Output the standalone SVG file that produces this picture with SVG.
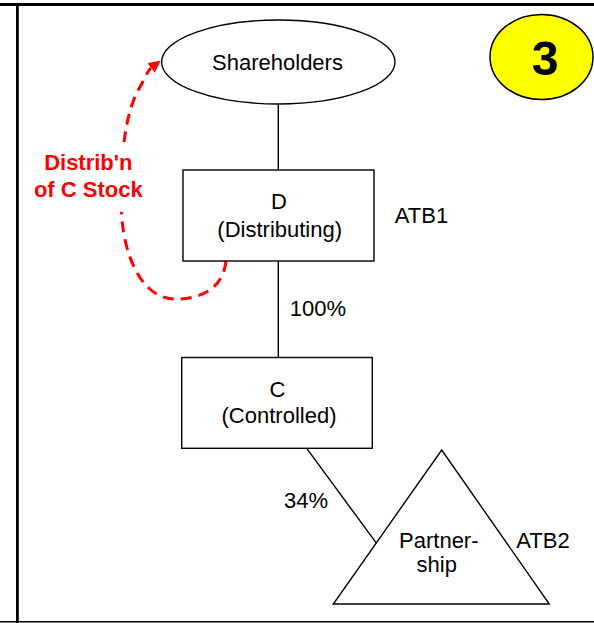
<svg xmlns="http://www.w3.org/2000/svg" width="594" height="623" viewBox="0 0 594 623">
<defs>
<style>
.t{font-family:"Liberation Sans",Arial,sans-serif;font-size:22px;fill:#000;text-anchor:middle}
.r{font-family:"Liberation Sans",Arial,sans-serif;font-size:22px;font-weight:bold;fill:#FF0000;text-anchor:middle}
.n{fill:#fff;stroke:#000;stroke-width:1.4}
.c{stroke:#000;stroke-width:1.4;fill:none}
</style>
<marker id="ah" viewBox="0 0 12 12" refX="0" refY="6" markerWidth="12" markerHeight="12" markerUnits="userSpaceOnUse" orient="auto">
<path d="M0,0 L12,6 L0,12 z" fill="#FF0000"/>
</marker>
</defs>
<rect width="594" height="623" fill="#fff"/>
<g id="frame">
<line x1="0" y1="4.6" x2="594" y2="4.6" stroke="#000" stroke-width="3"/>
<line x1="17.4" y1="4" x2="17.4" y2="623" stroke="#000" stroke-width="2.8"/>
<line x1="0" y1="621.8" x2="594" y2="621.8" stroke="#000" stroke-width="1.5"/>
</g>
<g id="connectors">
<line class="c" x1="278.3" y1="104" x2="278.3" y2="170"/>
<line class="c" x1="278.3" y1="261" x2="278.3" y2="357.5"/>
<line class="c" x1="306.7" y1="448.3" x2="376" y2="542.7"/>
<path d="M226,261 C223,290 198,300 173,299 C140,297 121,252 121,200 C121,150 126,110 140,87 C144,80.5 147,71 151,68" fill="none" stroke="#FF0000" stroke-width="3" stroke-dasharray="11 7" marker-end="url(#ah)"/>
</g>
<g id="label-distrib">
<rect x="30" y="142" width="116" height="70" fill="#fff"/>
<text class="r" x="88.3" y="170">Distrib'n</text>
<text class="r" x="88.3" y="196.7">of C Stock</text>
</g>
<g id="shareholders">
<ellipse class="n" cx="278.3" cy="62" rx="116.7" ry="42"/>
<text class="t" x="277.5" y="70">Shareholders</text>
</g>
<g id="badge">
<ellipse cx="541.5" cy="57" rx="51.5" ry="42.5" fill="#FFFF00" stroke="#000" stroke-width="1.5"/>
<text x="545" y="75" style="font-family:'Liberation Sans',Arial,sans-serif;font-size:48px;font-weight:bold;text-anchor:middle">3</text>
</g>
<g id="d">
<rect class="n" x="183" y="170" width="191" height="91"/>
<text class="t" x="279" y="209">D</text>
<text class="t" x="279.7" y="237">(Distributing)</text>
<text class="t" x="421.5" y="222.5">ATB1</text>
</g>
<g id="pct100">
<text class="t" x="318" y="316">100%</text>
</g>
<g id="c">
<rect class="n" x="181.7" y="357.5" width="190.6" height="90.8"/>
<text class="t" x="277.5" y="397">C</text>
<text class="t" x="279" y="423.3">(Controlled)</text>
</g>
<g id="pct34">
<text class="t" x="306" y="508">34%</text>
</g>
<g id="partnership">
<polygon class="n" points="441.7,450 549.3,604 333.3,604"/>
<text class="t" x="438.8" y="548">Partner-</text>
<text class="t" x="436.7" y="571.7">ship</text>
<text class="t" x="543" y="548">ATB2</text>
</g>
</svg>
